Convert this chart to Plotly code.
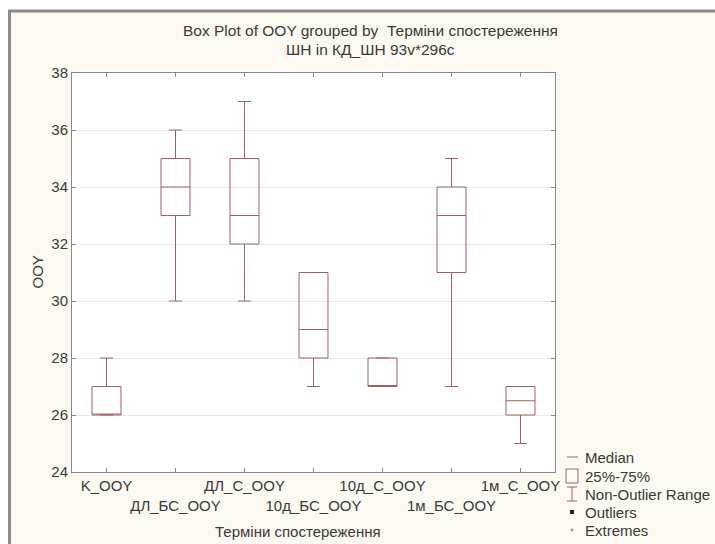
import plotly.graph_objects as go

categories = ["K_OOY", "ДЛ_БС_OOY", "ДЛ_С_OOY", "10д_БС_OOY", "10д_С_OOY", "1м_БС_OOY", "1м_С_OOY"]
lower_whisker = [26, 30, 30, 27, 27, 27, 25]
q1 = [26, 33, 32, 28, 27, 31, 26]
median = [26, 34, 33, 29, 27, 33, 26.5]
q3 = [27, 35, 35, 31, 28, 34, 27]
upper_whisker = [28, 36, 37, 31, 28, 35, 27]
y_ticks = [24, 26, 28, 30, 32, 34, 36, 38]
legend_labels = ["Median", "25%-75%", "Non-Outlier Range", "Outliers", "Extremes"]

W, H = 715, 544
L, R, T, B = 72, 555, 73, 472
BOX = "#9a6464"
TXT = "#3a3a3a"
FONT = "Liberation Sans, Arial, sans-serif"
FS = 15


def px_x(p):
    return (p - L) / (R - L)


def px_y(p):
    return (B - p) / (B - T)


ticktext = [c if i % 2 == 0 else "<br>" + c for i, c in enumerate(categories)]

fig = go.Figure()
fig.add_trace(go.Box(
    x=categories,
    q1=q1, median=median, q3=q3,
    lowerfence=lower_whisker, upperfence=upper_whisker,
    fillcolor="rgba(0,0,0,0)",
    line=dict(color=BOX, width=1),
    width=0.42,
    whiskerwidth=0.45,
    boxpoints=False,
    showlegend=False,
    hoverinfo="skip",
))


def ann(text, x, y, size=FS, **kw):
    d = dict(text=text, x=px_x(x), y=px_y(y), xref="paper", yref="paper", showarrow=False,
             yanchor="middle", font=dict(size=size, color=TXT, family=FONT))
    d.update(kw)
    return d


annotations = [
    ann("Box Plot of OOY grouped by  Терміни спостереження", 370, 31, 15.5),
    ann("ШН in КД_ШН 93v*296c", 370, 50, 15.5),
    ann("OOY", 26, 272, textangle=-90),
    ann("Терміни спостереження", 298, 531),
]
leg_y = [457, 476, 494, 512, 530]
for lab, yy in zip(legend_labels, leg_y):
    annotations.append(ann(lab, 583, yy, 15, xanchor="left"))


def pline(x0, y0, x1, y1, color, width=1):
    return dict(type="line", xref="paper", yref="paper", x0=px_x(x0), x1=px_x(x1),
                y0=px_y(y0), y1=px_y(y1), line=dict(color=color, width=width), layer="above")


def prect(x0, y0, x1, y1, fill, line_color=None, lw=0):
    return dict(type="rect", xref="paper", yref="paper", x0=px_x(x0), x1=px_x(x1),
                y0=px_y(y0), y1=px_y(y1), fillcolor=fill,
                line=dict(color=line_color or fill, width=lw), layer="above")


shapes = [
    prect(0, 0, W, 10, "white"),
    prect(0, 0, 8, H, "white"),
    pline(8, 11, W, 11, "#8f8a85", 3),
    pline(9.5, 10, 9.5, H, "#8f8a85", 3),
    # legend symbols
    pline(567, 457, 578, 457, BOX, 1),
    prect(566, 469, 578, 483, "rgba(0,0,0,0)", BOX, 1),
    pline(572, 487, 572, 501, BOX, 1),
    pline(567, 487, 577, 487, BOX, 1),
    pline(567, 501, 577, 501, BOX, 1),
    prect(570, 510, 574, 514, "#222222"),
    dict(type="circle", xref="paper", yref="paper", x0=px_x(570.5), x1=px_x(573.5),
         y0=px_y(528.5), y1=px_y(531.5), fillcolor="#999999", line=dict(width=0), layer="above"),
]

fig.update_layout(
    width=W, height=H,
    margin=dict(l=L, r=W - R, t=T, b=H - B),
    paper_bgcolor="#fdf8f2",
    plot_bgcolor="white",
    annotations=annotations,
    shapes=shapes,
    font=dict(family=FONT, size=FS, color=TXT),
)
fig.update_xaxes(
    type="category", range=[-0.5, 6.5],
    tickvals=categories, ticktext=ticktext, tickangle=0,
    ticks="inside", ticklen=4, tickcolor="#888", mirror="ticks",
    showline=True, linecolor="#888", linewidth=1,
    showgrid=False, tickfont=dict(size=FS, color=TXT, family=FONT),
)
fig.update_yaxes(
    range=[24, 38], tickvals=y_ticks,
    ticks="inside", ticklen=4, tickcolor="#888", mirror="ticks",
    showline=True, linecolor="#888", linewidth=1,
    showgrid=True, gridcolor="#e8e8e8", zeroline=False,
    tickfont=dict(size=FS, color=TXT, family=FONT),
)

fig.write_html("out.html")
